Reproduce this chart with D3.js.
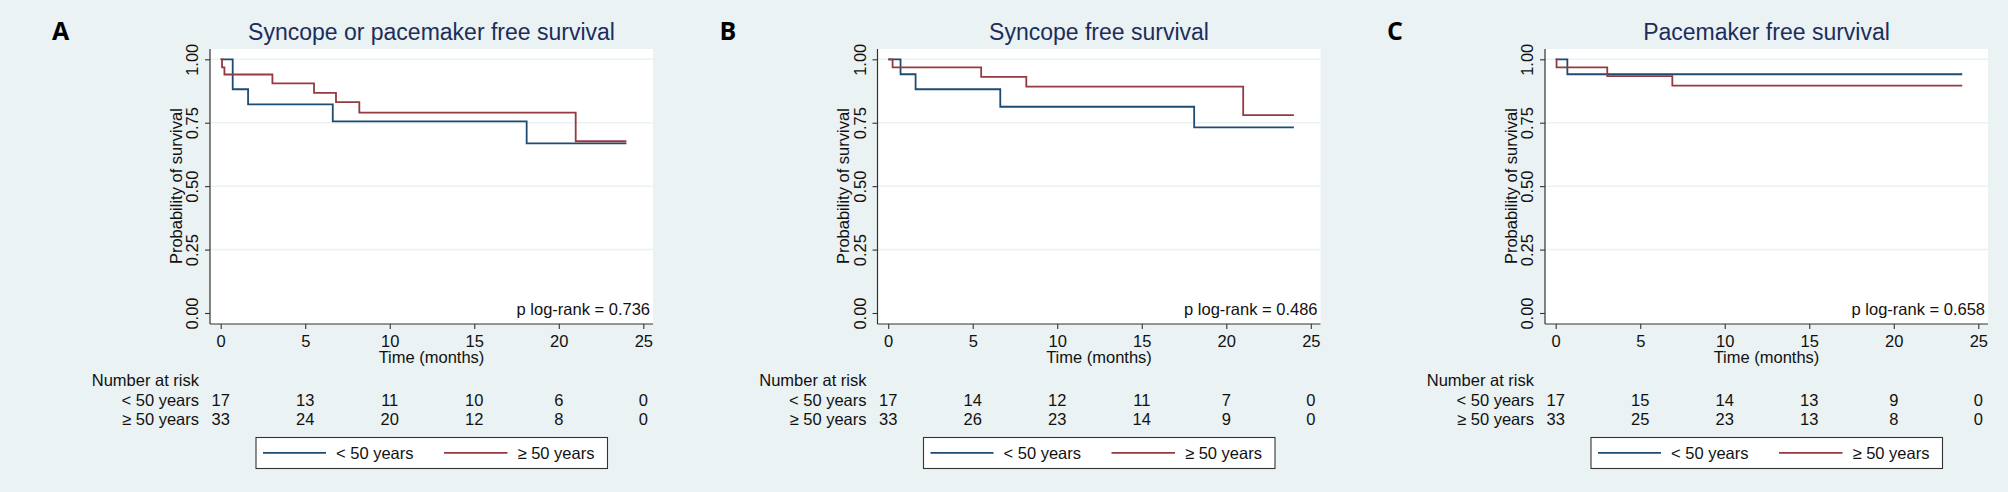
<!DOCTYPE html>
<html>
<head>
<meta charset="utf-8">
<script src="https://cdn.jsdelivr.net/npm/d3@7"></script>
<style>
  html, body { margin: 0; padding: 0; background: #eaf2f3; }
  svg { display: block; font-family: "Liberation Sans", Arial, Helvetica, sans-serif; }
  .tick-label, .axis-title, .risk, .legend-text, .pval { font-size: 16.5px; fill: #111; }
  .title { font-size: 23px; fill: #1c2d5c; }
  .letter { font-family: "Open Sans", "Liberation Sans", sans-serif; font-weight: 700; font-size: 25px; fill: #000; }
</style>
</head>
<body>
<div class="viz"></div>
<script>
// Axis ticks
const timeTicks = [0, 5, 10, 15, 20, 25];
const probTicks = [0, 0.25, 0.5, 0.75, 1];

const panelLetters = ["A", "B", "C"];
const panelTitles = [
  "Syncope or pacemaker free survival",
  "Syncope free survival",
  "Pacemaker free survival",
];
const pValues = ["0.736", "0.486", "0.658"];
const groupLabels = ["< 50 years", "\u2265 50 years"];

// Kaplan-Meier steps: [time (months), survival]
const kmA_under50 = [[0, 1], [0.71, 0.882], [1.62, 0.822], [6.63, 0.755], [18.1, 0.669], [24, 0.669]];
const kmA_over50 = [[0, 1], [0.08, 0.968], [0.22, 0.94], [3.06, 0.905], [5.52, 0.868], [6.82, 0.831], [8.2, 0.79], [21.0, 0.677], [24, 0.677]];
const kmB_under50 = [[0, 1], [0.73, 0.941], [1.62, 0.882], [6.63, 0.813], [18.1, 0.732], [24, 0.732]];
const kmB_over50 = [[0, 1], [0.26, 0.968], [5.5, 0.931], [8.17, 0.892], [21.0, 0.78], [24, 0.78]];
const kmC_under50 = [[0, 1], [0.69, 0.941], [24.05, 0.941]];
const kmC_over50 = [[0, 1], [0.05, 0.968], [3.05, 0.934], [6.9, 0.896], [24.05, 0.896]];

// Number at risk at each time tick
const riskA_under50 = [17, 13, 11, 10, 6, 0];
const riskA_over50 = [33, 24, 20, 12, 8, 0];
const riskB_under50 = [17, 14, 12, 11, 7, 0];
const riskB_over50 = [33, 26, 23, 14, 9, 0];
const riskC_under50 = [17, 15, 14, 13, 9, 0];
const riskC_over50 = [33, 25, 23, 13, 8, 0];

const panels = [
  { km: [kmA_under50, kmA_over50], risk: [riskA_under50, riskA_over50] },
  { km: [kmB_under50, kmB_over50], risk: [riskB_under50, riskB_over50] },
  { km: [kmC_under50, kmC_over50], risk: [riskC_under50, riskC_over50] },
];

const groupColors = ["#1f4b73", "#953a40"];

const totalWidth = 2008;
const totalHeight = 492;
const panelStep = 667.5;

// panel-local geometry
const plot = { left: 210, right: 653, top: 49, bottom: 324 };

const svg = d3
  .select(".viz")
  .append("svg")
  .attr("width", totalWidth)
  .attr("height", totalHeight);

svg.append("rect")
  .attr("width", totalWidth)
  .attr("height", totalHeight)
  .attr("fill", "#eaf2f3");

const xScale = d3.scaleLinear().domain([0, 25]).range([220.7, 643.3]);
const yScale = d3.scaleLinear().domain([0, 1]).range([313, 59.3]);

panels.forEach((p, i) => {
  const g = svg.append("g").attr("transform", `translate(${i * panelStep},0)`);

  // plot region
  g.append("rect")
    .attr("x", plot.left)
    .attr("y", plot.top)
    .attr("width", plot.right - plot.left)
    .attr("height", plot.bottom - plot.top)
    .attr("fill", "#fff");

  // grid lines
  g.selectAll(".grid")
    .data(probTicks.filter((d) => d > 0))
    .enter()
    .append("line")
    .attr("x1", plot.left)
    .attr("x2", plot.right)
    .attr("y1", (d) => yScale(d))
    .attr("y2", (d) => yScale(d))
    .attr("stroke", "#eaf2f3")
    .attr("stroke-width", 1.5);

  // y axis
  const yAxis = g.append("g")
    .attr("transform", `translate(${plot.left},0)`)
    .call(d3.axisLeft(yScale).tickValues(probTicks).tickSize(5).tickFormat(d3.format(".2f")));
  yAxis.select(".domain").attr("d", `M0,${plot.top}V${plot.bottom}`).attr("stroke", "#333").attr("stroke-width", 1.2);
  yAxis.selectAll(".tick line").attr("stroke", "#333").attr("stroke-width", 1.1);
  yAxis.selectAll(".tick text")
    .attr("class", "tick-label")
    .attr("x", null).attr("dy", null)
    .attr("text-anchor", "middle")
    .attr("transform", "translate(-12,0) rotate(-90)")
    .style("font-size", null).style("font-family", null);
  yAxis.attr("font-size", null).attr("font-family", null);

  // x axis
  const xAxis = g.append("g")
    .attr("transform", `translate(0,${plot.bottom})`)
    .call(d3.axisBottom(xScale).tickValues(timeTicks).tickSize(5).tickFormat(d3.format("d")));
  xAxis.select(".domain").attr("d", `M${plot.left},0H${plot.right}`).attr("stroke", "#333").attr("stroke-width", 1.2);
  xAxis.selectAll(".tick line").attr("stroke", "#333").attr("stroke-width", 1.1);
  xAxis.selectAll(".tick text")
    .attr("class", "tick-label")
    .attr("y", 23).attr("dy", null);
  xAxis.attr("font-size", null).attr("font-family", null);

  // survival curves
  const line = d3.line()
    .x((d) => xScale(d[0]))
    .y((d) => yScale(d[1]))
    .curve(d3.curveStepAfter);

  p.km.forEach((series, k) => {
    g.append("path")
      .datum(series)
      .attr("d", line)
      .attr("fill", "none")
      .attr("stroke", groupColors[k])
      .attr("stroke-width", 1.8);
  });

  // titles and labels
  g.append("text")
    .attr("class", "letter")
    .attr("x", 52)
    .attr("y", 40)
    .text(panelLetters[i]);

  g.append("text")
    .attr("class", "title")
    .attr("x", (plot.left + plot.right) / 2)
    .attr("y", 40)
    .attr("text-anchor", "middle")
    .text(panelTitles[i]);

  g.append("text")
    .attr("class", "axis-title")
    .attr("text-anchor", "middle")
    .attr("transform", `translate(181.5,${(yScale(0) + yScale(1)) / 2}) rotate(-90)`)
    .text("Probability of survival");

  g.append("text")
    .attr("class", "axis-title")
    .attr("x", (plot.left + plot.right) / 2)
    .attr("y", 363)
    .attr("text-anchor", "middle")
    .text("Time (months)");

  g.append("text")
    .attr("class", "pval")
    .attr("x", 650)
    .attr("y", 315)
    .attr("text-anchor", "end")
    .text(`p log-rank = ${pValues[i]}`);

  // number at risk table
  g.append("text")
    .attr("class", "risk")
    .attr("x", 199)
    .attr("y", 385.5)
    .attr("text-anchor", "end")
    .text("Number at risk");

  const rowY = [405.5, 425];
  p.risk.forEach((row, k) => {
    g.append("text")
      .attr("class", "risk")
      .attr("x", 199)
      .attr("y", rowY[k])
      .attr("text-anchor", "end")
      .text(groupLabels[k]);

    g.selectAll(`.risk-${k}`)
      .data(row)
      .enter()
      .append("text")
      .attr("class", "risk")
      .attr("x", (d, j) => xScale(timeTicks[j]))
      .attr("y", rowY[k])
      .attr("text-anchor", "middle")
      .text((d) => d);
  });

  // legend
  const legend = g.append("g").attr("transform", "translate(256,437.5)");
  legend.append("rect")
    .attr("width", 351.5)
    .attr("height", 31)
    .attr("fill", "#fff")
    .attr("stroke", "#333")
    .attr("stroke-width", 1.1);

  const legendX = [[7, 70, 80], [188, 251.5, 261.5]];
  groupLabels.forEach((label, k) => {
    legend.append("line")
      .attr("x1", legendX[k][0])
      .attr("x2", legendX[k][1])
      .attr("y1", 15.3)
      .attr("y2", 15.3)
      .attr("stroke", groupColors[k])
      .attr("stroke-width", 1.8);
    legend.append("text")
      .attr("class", "legend-text")
      .attr("x", legendX[k][2])
      .attr("y", 21.5)
      .text(label);
  });
});
</script>
</body>
</html>
